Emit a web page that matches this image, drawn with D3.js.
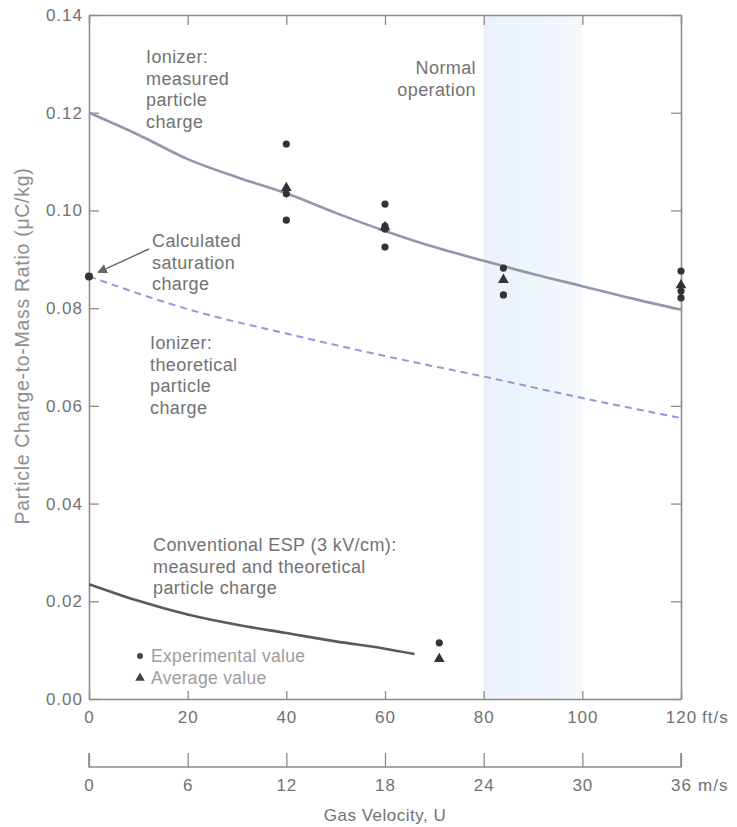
<!DOCTYPE html>
<html>
<head>
<meta charset="utf-8">
<script src="https://cdn.jsdelivr.net/npm/d3@7"></script>
<style>
  body { margin: 0; background: #fff; }
  svg text { font-family: "Liberation Sans", Arial, sans-serif; }
</style>
</head>
<body>
<div id="chart"></div>
<script>
// ft/s ticks and m/s ticks
var ftTicks = [0, 20, 40, 60, 80, 100, 120];
var msTicks = [0, 6, 12, 18, 24, 30, 36];
var yTicks = [0, 0.02, 0.04, 0.06, 0.08, 0.10, 0.12, 0.14];

// ionizer, measured particle charge (solid curve)
var measuredX = [0, 10, 20, 30, 40, 50, 60, 70, 80, 90, 100, 110, 120];
var measuredY = [0.120, 0.1155, 0.1105, 0.1068, 0.1035, 0.0995, 0.0958, 0.0925, 0.0897, 0.0870, 0.0845, 0.0820, 0.0797];

// ionizer, theoretical particle charge (dashed)
var theoX = [0, 10, 20, 40, 60, 80, 100, 120];
var theoY = [0.0865, 0.0830, 0.0798, 0.0748, 0.0702, 0.0660, 0.0616, 0.0575];

// conventional ESP curve
var espX = [0, 10, 20, 30, 40, 50, 60, 66];
var espY = [0.0235, 0.0201, 0.0173, 0.0152, 0.0135, 0.0118, 0.0103, 0.0092];

// experimental values (dots)
var expX = [40, 40, 40, 60, 60, 60, 60, 84, 84, 120, 120, 120, 71];
var expY = [0.1136, 0.1034, 0.0980, 0.1013, 0.0962, 0.0925, 0.0968, 0.0882, 0.0827, 0.0876, 0.0835, 0.0821, 0.0115];
// average values (triangles)
var avgX = [40, 60, 84, 120, 71];
var avgY = [0.1046, 0.0966, 0.0858, 0.0847, 0.0082];

var satX = 0, satY = 0.0865;
var bandX = [80, 100];

var W = 737, H = 827;
var mLeft = 89, mRight = 681, mTop = 15, mBottom = 699, msAxisY = 767;
var axisCol = "#8c8c8c", txtCol = "#727272";

var svg = d3.select("#chart").append("svg")
    .attr("width", W).attr("height", H);

var x = d3.scaleLinear().domain([0, 120]).range([mLeft, mRight]);
var xm = d3.scaleLinear().domain([0, 36]).range([mLeft, mRight]);
var y = d3.scaleLinear().domain([0, 0.14]).range([mBottom, mTop]);

// normal operation band
var grad = svg.append("defs").append("linearGradient").attr("id", "band");
grad.append("stop").attr("offset", "0%").attr("stop-color", "#ebf2fb");
grad.append("stop").attr("offset", "60%").attr("stop-color", "#eef5fb");
grad.append("stop").attr("offset", "100%").attr("stop-color", "#f5f9fc");
svg.append("rect")
    .attr("x", x(bandX[0])).attr("y", mTop)
    .attr("width", x(bandX[1]) - x(bandX[0])).attr("height", mBottom - mTop)
    .attr("fill", "url(#band)");

function styleAxis(g) {
    g.select(".domain").attr("stroke", axisCol).attr("stroke-width", 1.6);
    g.selectAll(".tick line").attr("stroke", axisCol).attr("stroke-width", 1.3);
    g.selectAll(".tick text").attr("fill", txtCol).attr("font-size", 17)
        .attr("letter-spacing", 1);
}

// left axis
svg.append("g").attr("transform", "translate(" + mLeft + ",0)")
    .call(d3.axisLeft(y).tickValues(yTicks).tickFormat(d3.format(".2f"))
        .tickSizeInner(-10).tickSizeOuter(0).tickPadding(6))
    .call(styleAxis);
// right frame
svg.append("g").attr("transform", "translate(" + mRight + ",0)")
    .call(d3.axisRight(y).tickValues(yTicks).tickFormat("")
        .tickSizeInner(-10).tickSizeOuter(0))
    .call(styleAxis);
// top frame
svg.append("g").attr("transform", "translate(0," + mTop + ")")
    .call(d3.axisTop(x).tickValues(ftTicks).tickFormat("")
        .tickSizeInner(-10).tickSizeOuter(0))
    .call(styleAxis);
// bottom ft/s axis
var gx = svg.append("g").attr("transform", "translate(0," + mBottom + ")")
    .call(d3.axisBottom(x).tickValues(ftTicks).tickFormat(d3.format("d"))
        .tickSizeInner(-8).tickSizeOuter(0).tickPadding(12))
    .call(styleAxis);
gx.append("text").attr("x", x(120) + 21).attr("y", 12).attr("dy", "0.71em")
    .attr("fill", txtCol).attr("font-size", 17).attr("letter-spacing", 1)
    .attr("text-anchor", "start").text("ft/s");
// m/s axis
var gm = svg.append("g").attr("transform", "translate(0," + msAxisY + ")")
    .call(d3.axisTop(xm).tickValues(msTicks).tickFormat(""))
    .call(g => g.selectAll(".tick line").attr("y2", -14))
    .call(styleAxis);
gm.select(".domain").attr("d", "M" + mLeft + ",-14V0H" + mRight + "V-14");
gm.selectAll(".tick").append("text")
    .attr("y", 12).attr("dy", "0.71em").attr("text-anchor", "middle")
    .attr("fill", txtCol).attr("font-size", 17).attr("letter-spacing", 1)
    .text(d => d);
gm.append("text").attr("x", xm(36) + 17).attr("y", 12).attr("dy", "0.71em")
    .attr("fill", txtCol).attr("font-size", 17).attr("letter-spacing", 1)
    .attr("text-anchor", "start").text("m/s");

// axis titles
svg.append("text").attr("x", (mLeft + mRight) / 2).attr("y", 821)
    .attr("text-anchor", "middle").attr("fill", txtCol).attr("font-size", 17)
    .attr("letter-spacing", 0.5).text("Gas Velocity, U");
svg.append("text")
    .attr("transform", "translate(29,346) rotate(-90)")
    .attr("text-anchor", "middle").attr("fill", "#8e8e8e").attr("font-size", 19.5)
    .attr("letter-spacing", 0.7)
    .text("Particle Charge-to-Mass Ratio (\u03bcC/kg)");

// curves
var line = d3.line().x(d => x(d[0])).y(d => y(d[1])).curve(d3.curveMonotoneX);
svg.append("path").datum(d3.zip(measuredX, measuredY))
    .attr("fill", "none").attr("stroke", "#9397ad").attr("stroke-width", 2.6)
    .attr("d", line);
svg.append("path").datum(d3.zip(theoX, theoY))
    .attr("fill", "none").attr("stroke", "#909ad8").attr("stroke-width", 2)
    .attr("stroke-dasharray", "7,5").attr("d", line);
svg.append("path").datum(d3.zip(espX, espY))
    .attr("fill", "none").attr("stroke", "#5a5a5e").attr("stroke-width", 2.6)
    .attr("d", line);

// points
svg.append("g").selectAll("circle").data(d3.zip(expX, expY)).enter()
    .append("circle")
    .attr("cx", d => x(d[0])).attr("cy", d => y(d[1])).attr("r", 3.6)
    .attr("fill", "#333");
svg.append("g").selectAll("path").data(d3.zip(avgX, avgY)).enter()
    .append("path")
    .attr("transform", d => "translate(" + x(d[0]) + "," + y(d[1]) + ")")
    .attr("d", d3.symbol(d3.symbolTriangle).size(50))
    .attr("fill", "#333");
svg.append("circle").attr("cx", x(satX)).attr("cy", y(satY)).attr("r", 4)
    .attr("fill", "#333");

// annotations
function block(lines, px, py, anchor) {
    var t = svg.append("text").attr("x", px).attr("y", py)
        .attr("text-anchor", anchor || "start")
        .attr("fill", txtCol).attr("font-size", 18).attr("letter-spacing", 0.4);
    lines.forEach((s, i) => {
        t.append("tspan").attr("x", px).attr("dy", i ? "1.2em" : 0).text(s);
    });
}
block(["Ionizer:", "measured", "particle", "charge"], 146, 63);
block(["Normal", "operation"], 476, 74, "end");
block(["Calculated", "saturation", "charge"], 152, 247);
block(["Ionizer:", "theoretical", "particle", "charge"], 150, 349);
block(["Conventional ESP (3 kV/cm):", "measured and theoretical", "particle charge"], 153, 551);

// arrow to saturation point
svg.append("defs").append("marker").attr("id", "arr")
    .attr("viewBox", "0 0 10 10").attr("refX", 9).attr("refY", 5)
    .attr("markerWidth", 7).attr("markerHeight", 7).attr("orient", "auto")
    .append("path").attr("d", "M0,0L10,5L0,10z").attr("fill", "#666");
svg.append("line")
    .attr("x1", 149).attr("y1", 249)
    .attr("x2", x(satX) + 9).attr("y2", y(satY) - 4)
    .attr("stroke", "#666").attr("stroke-width", 1.4)
    .attr("marker-end", "url(#arr)");

// legend
var leg = svg.append("g").attr("transform", "translate(140,656)");
leg.append("circle").attr("r", 3).attr("fill", "#444");
leg.append("text").attr("x", 11).attr("y", 6).attr("fill", "#9c9c9c")
    .attr("font-size", 17.5).attr("letter-spacing", 0.3).text("Experimental value");
leg.append("path").attr("transform", "translate(0,22)")
    .attr("d", d3.symbol(d3.symbolTriangle).size(40)).attr("fill", "#444");
leg.append("text").attr("x", 11).attr("y", 28).attr("fill", "#9c9c9c")
    .attr("font-size", 17.5).attr("letter-spacing", 0.3).text("Average value");
</script>
</body>
</html>
